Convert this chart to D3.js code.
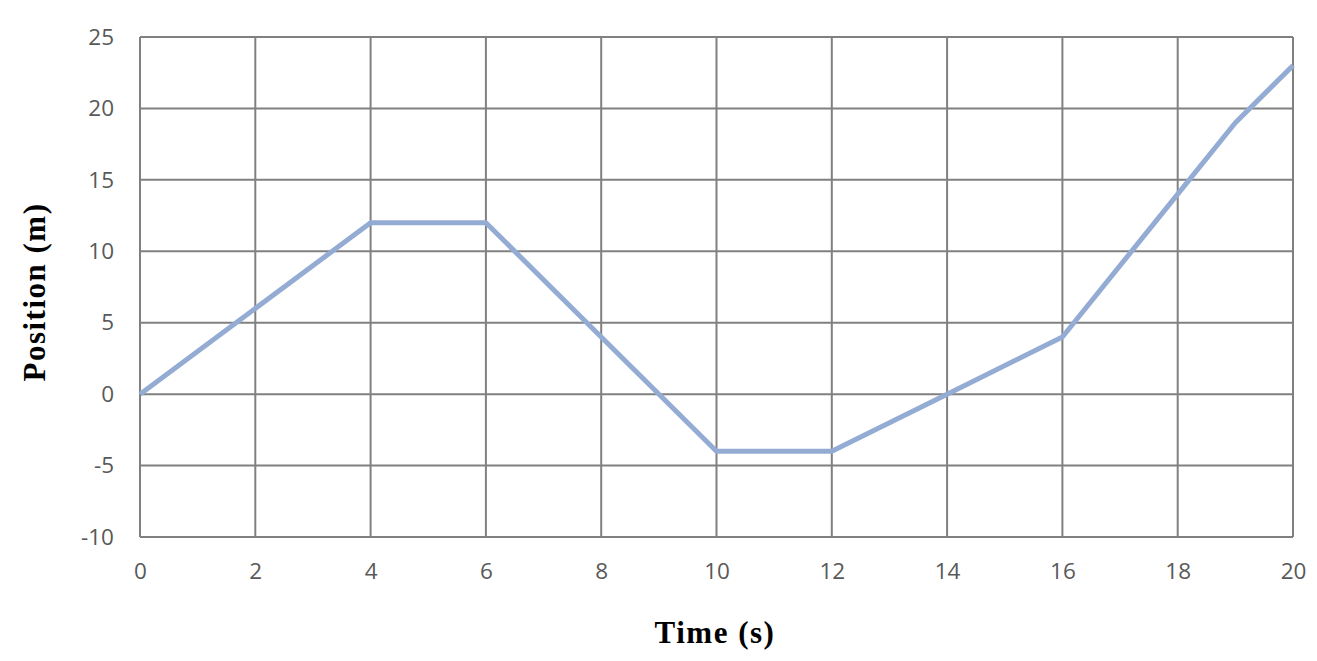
<!DOCTYPE html>
<html>
<head>
<meta charset="utf-8">
<script src="https://cdn.jsdelivr.net/npm/d3@7"></script>
<style>
  body { margin: 0; background: #fff; }
  .tick text { font-family: "Open Sans", sans-serif; fill: #595959; }
  .title { font-family: "Liberation Serif", serif; font-weight: bold; fill: #000; }
</style>
</head>
<body>
<svg width="1317" height="661"></svg>
<script>
// data
const times = [0, 2, 4, 6, 8, 10, 12, 14, 16, 18, 19, 20];
const positions = [0, 6, 12, 12, 4, -4, -4, 0, 4, 14, 19, 23];
const xTicks = [0, 2, 4, 6, 8, 10, 12, 14, 16, 18, 20];
const yTicks = [-10, -5, 0, 5, 10, 15, 20, 25];

const svg = d3.select("svg");
const plotLeft = 140, plotRight = 1293, plotTop = 37, plotBottom = 537;

const x = d3.scaleLinear().domain([0, 20]).range([plotLeft, plotRight]);
const y = d3.scaleLinear().domain([-10, 25]).range([plotBottom, plotTop]);

// grid
svg.append("g")
  .selectAll("line")
  .data(xTicks)
  .enter()
  .append("line")
  .attr("x1", d => x(d)).attr("x2", d => x(d))
  .attr("y1", plotTop).attr("y2", plotBottom)
  .attr("stroke", "#808080").attr("stroke-width", 2);

svg.append("g")
  .selectAll("line")
  .data(yTicks)
  .enter()
  .append("line")
  .attr("x1", plotLeft).attr("x2", plotRight)
  .attr("y1", d => y(d)).attr("y2", d => y(d))
  .attr("stroke", "#808080").attr("stroke-width", 2);

// axes (labels only), plain hyphen for negatives
const fmt = d => String(d);
const xAxis = svg.append("g")
  .attr("transform", `translate(0, ${plotBottom})`)
  .call(d3.axisBottom(x).tickValues(xTicks).tickFormat(fmt).tickSize(0).tickPadding(26));
const yAxis = svg.append("g")
  .attr("transform", `translate(${plotLeft}, 0)`)
  .call(d3.axisLeft(y).tickValues(yTicks).tickFormat(fmt).tickSize(0).tickPadding(26));
[xAxis, yAxis].forEach(a => {
  a.select(".domain").remove();
  a.selectAll("text").attr("font-size", 22.5);
});

// series
const line = d3.line()
  .x((d, i) => x(times[i]))
  .y(d => y(d));

svg.append("path")
  .datum(positions)
  .attr("d", line)
  .attr("fill", "none")
  .attr("stroke", "#94acd4")
  .attr("stroke-width", 5)
  .attr("stroke-linejoin", "round");

// axis titles
svg.append("text")
  .attr("class", "title")
  .attr("x", 715)
  .attr("y", 643)
  .attr("text-anchor", "middle")
  .attr("font-size", 31)
  .attr("letter-spacing", 1.5)
  .text("Time (s)");

svg.append("text")
  .attr("class", "title")
  .attr("transform", `translate(45, 292) rotate(-90)`)
  .attr("text-anchor", "middle")
  .attr("font-size", 31)
  .attr("letter-spacing", 1.5)
  .text("Position (m)");
</script>
</body>
</html>
